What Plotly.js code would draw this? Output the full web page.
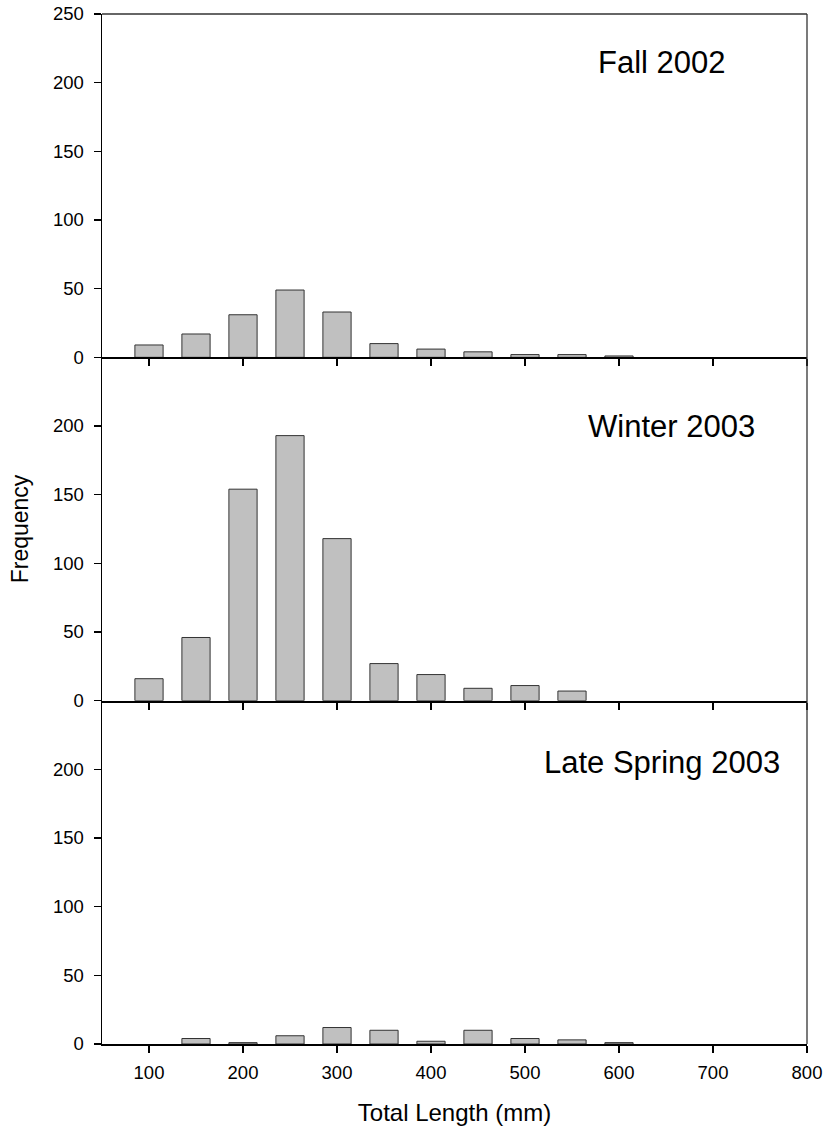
<!DOCTYPE html>
<html>
<head>
<meta charset="utf-8">
<script src="https://cdn.plot.ly/plotly-3.0.1.min.js"></script>
<style>html,body{margin:0;padding:0;background:#fff;}#chart{width:827px;height:1131px;}</style>
</head>
<body>
<div id="chart"></div>
<script>
// Length class midpoints (mm)
var lengthClasses = [100, 150, 200, 250, 300, 350, 400, 450, 500, 550, 600];
// Frequencies per season
var fall2002 = [9, 17, 31, 49, 33, 10, 6, 4, 2, 2, 1];
var winter2003 = [16, 46, 154, 193, 118, 27, 19, 9, 11, 7, 0];
var lateSpring2003 = [0, 4, 1, 6, 12, 10, 2, 10, 4, 3, 1];
var panelLabels = ["Fall 2002", "Winter 2003", "Late Spring 2003"];
var xTickVals = [100, 200, 300, 400, 500, 600, 700, 800];

var FONT = "Arial, 'Liberation Sans', sans-serif";
var barStyle = {color: "#c0c0c0", line: {color: "#333333", width: 1}};

function barTrace(y, xa, ya) {
  // empty classes are not drawn (no zero-height outline)
  var yy = y.map(function (v) { return v === 0 ? null : v; });
  return {type: "bar", x: lengthClasses, y: yy, width: 30, marker: barStyle,
          xaxis: xa, yaxis: ya, showlegend: false, hoverinfo: "x+y"};
}

var data = [
  barTrace(fall2002, "x", "y"),
  barTrace(winter2003, "x2", "y2"),
  barTrace(lateSpring2003, "x3", "y3")
];

function xAxis(domainAnchor, showLabels, title) {
  var ax = {
    range: [50, 800], anchor: domainAnchor, tickvals: xTickVals,
    ticks: "outside", ticklen: 7, tickwidth: 1.3, tickcolor: "#000",
    showline: true, linecolor: "#000", linewidth: 2,
    showgrid: false, zeroline: false, showticklabels: showLabels,
    ticklabelstandoff: 4,
    tickfont: {family: FONT, size: 18.5, color: "#000"}
  };
  if (title) ax.title = {text: title, font: {family: FONT, size: 24, color: "#000"}, standoff: 22};
  return ax;
}
function yAxis(dom, anchor, tickvals, title) {
  var ax = {
    domain: dom, anchor: anchor, range: [0, 250], tickvals: tickvals,
    ticks: "outside", ticklen: 7, tickwidth: 1.3, tickcolor: "#000",
    showline: true, linecolor: "#000", linewidth: 1.5,
    showgrid: false, zeroline: false,
    ticklabelstandoff: 6,
    tickfont: {family: FONT, size: 18.5, color: "#000"}
  };
  if (title) ax.title = {text: title, font: {family: FONT, size: 23, color: "#000"}, standoff: 18};
  return ax;
}

var layout = {
  width: 827, height: 1131,
  margin: {l: 102, r: 20, t: 14, b: 87},
  paper_bgcolor: "#fff", plot_bgcolor: "#fff",
  font: {family: FONT, color: "#000"},
  bargap: 0,
  xaxis: xAxis("y", false),
  yaxis: yAxis([2/3, 1], "x", [0, 50, 100, 150, 200, 250]),
  xaxis2: xAxis("y2", false),
  yaxis2: yAxis([1/3, 2/3], "x2", [0, 50, 100, 150, 200], "Frequency"),
  xaxis3: xAxis("y3", true, "Total Length (mm)"),
  yaxis3: yAxis([0, 1/3], "x3", [0, 50, 100, 150, 200]),
  annotations: [
    {text: panelLabels[0], x: 646, y: 215, xref: "x", yref: "y", showarrow: false,
     font: {family: FONT, size: 31, color: "#000"}},
    {text: panelLabels[1], x: 655.6, y: 200, xref: "x2", yref: "y2", showarrow: false,
     font: {family: FONT, size: 31, color: "#000"}},
    {text: panelLabels[2], x: 646, y: 205, xref: "x3", yref: "y3", showarrow: false,
     font: {family: FONT, size: 31, color: "#000"}}
  ],
  shapes: [
    {type: "line", xref: "paper", yref: "paper", x0: 0, x1: 1, y0: 1, y1: 1,
     line: {color: "#333", width: 1.3}},
    {type: "line", xref: "paper", yref: "paper", x0: 1, x1: 1, y0: 0, y1: 1,
     line: {color: "#333", width: 1.3}}
  ]
};

Plotly.newPlot("chart", data, layout, {displayModeBar: false, staticPlot: true});
</script>
</body>
</html>
